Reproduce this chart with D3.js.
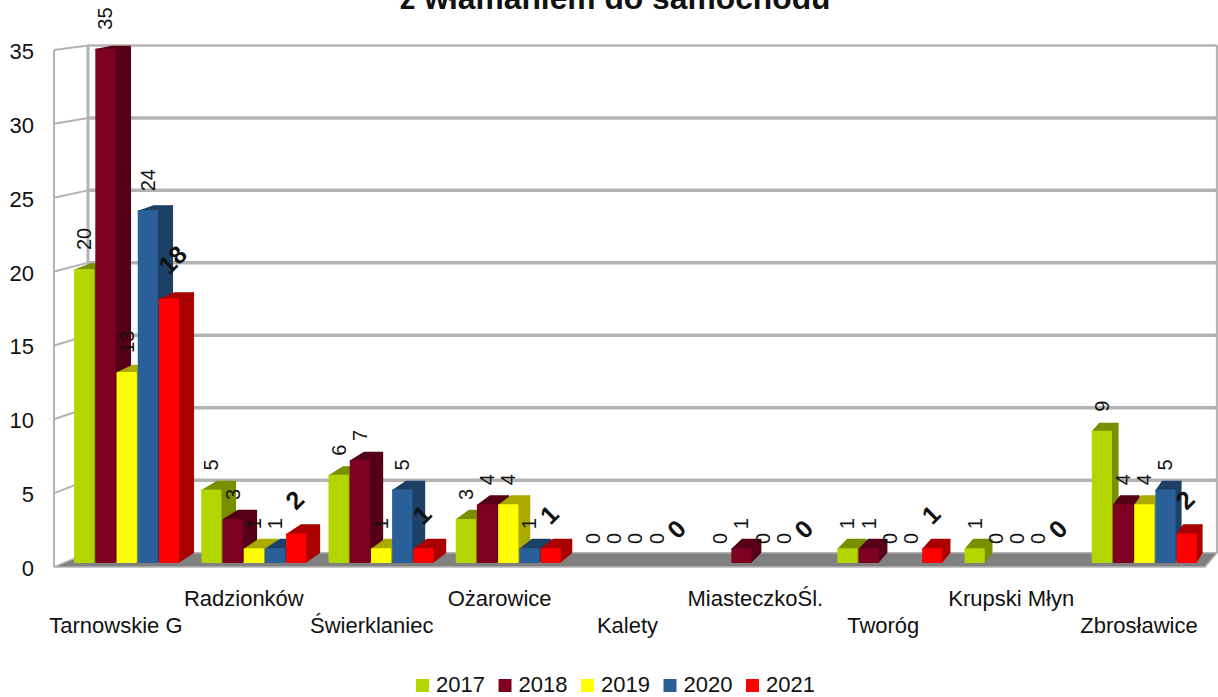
<!DOCTYPE html>
<html><head><meta charset="utf-8">
<script src="https://cdn.jsdelivr.net/npm/d3@7/dist/d3.min.js"></script>
<style>html,body{margin:0;background:#fff}svg{display:block}text{font-family:"Liberation Sans",sans-serif;fill:#111}</style>
</head><body><svg id="c" width="1218" height="697"></svg>
<script>
const categories=["Tarnowskie G","Radzionków","Świerklaniec","Ożarowice","Kalety","MiasteczkoŚl.","Tworóg","Krupski Młyn","Zbrosławice"];
const years=["2017","2018","2019","2020","2021"];
const v2017=[20,5,6,3,0,0,1,1,9];
const v2018=[35,3,7,4,0,1,1,0,4];
const v2019=[13,1,1,4,0,0,0,0,4];
const v2020=[24,1,5,1,0,0,0,0,5];
const v2021=[18,2,1,1,0,0,1,0,2];
const seriesValues=[v2017,v2018,v2019,v2020,v2021];
const frontColors=["#b3d600","#7e0021","#ffff00","#2a6099","#ff0000"];
const sideColors=["#788f00","#540016","#aaaa00","#1c4066","#aa0000"];
const yTicks=[0,5,10,15,20,25,30,35];
const titleText="z włamaniem do samochodu";

const svg=d3.select("#c");
const defs=svg.append("defs");
defs.append("filter").attr("id","soft").append("feGaussianBlur").attr("stdDeviation",0.55);

const x0=d3.scaleBand().domain(categories).range([54,1205]);
const x1=d3.scaleBand().domain(years).range([0,x0.bandwidth()]).paddingOuter(0.5);
const y=d3.scaleLinear().domain([0,35]).range([567,50]);
const K=0.981,VX=35,VY=-3.6,Z0=0.28,Z1=0.75,Z1Y=0.95;
// perspective: z=0 front plane, z=1 back wall (zy lets the bar tops read deeper than they are wide)
const P=(px,py,z,zy=z)=>[px+z*(VX+(K-1)*px),py+zy*(VY+(K-1)*py)];
const poly=pts=>pts.map(p=>p.join(",")).join(" ");

const grid=svg.append("g");
const gridCol="#b3b3b3";
const L=54,R=1205;
grid.append("polygon").attr("points",poly([P(L,y(0),0),P(R,y(0),0),P(R,y(0),1),P(L,y(0),1)]))
  .attr("fill","#808080").attr("stroke",gridCol).attr("stroke-width",1.5);
yTicks.forEach(t=>{
  const a=P(L,y(t),0),b=P(L,y(t),1),c=P(R,y(t),1);
  if(t>0){
    grid.append("line").attr("x1",a[0]).attr("y1",a[1]).attr("x2",b[0]).attr("y2",b[1]).attr("stroke",gridCol).attr("stroke-width",2);
    grid.append("line").attr("x1",b[0]).attr("y1",b[1]).attr("x2",c[0]).attr("y2",c[1]).attr("stroke",gridCol).attr("stroke-width",t===35?2.5:3.5);
  }
});
const seg=(a,b,w)=>grid.append("line").attr("x1",a[0]).attr("y1",a[1]).attr("x2",b[0]).attr("y2",b[1]).attr("stroke",gridCol).attr("stroke-width",w);
seg(P(L,y(0),0),P(L,y(35),0),2);
seg(P(L,y(0),1),P(L,y(35),1),3);
seg(P(R,y(0),1),P(R,y(35),1),2.5);

// bars: left to right, each front covers the previous side
const bars=svg.append("g").attr("filter","url(#soft)");
const labels=svg.append("g");
const inset=1;
categories.forEach((cat,i)=>{
  years.forEach((yr,s)=>{
    const v=seriesValues[s][i];
    const xa=x0(cat)+x1(yr),xb=xa+x1.bandwidth()-1;
    const yt=y(v),yb=y(0);
    const fTL=P(xa+inset,yt+inset,Z0),fTR=P(xb-inset,yt+inset,Z0),fBR=P(xb-inset,yb-inset,Z0),fBL=P(xa+inset,yb-inset,Z0);
    const bTL=P(xa+inset,yt+inset,Z1,Z1Y),bTR=P(xb-inset,yt+inset,Z1,Z1Y),bBR=P(xb-inset,yb-inset,Z1,Z1Y);
    if(v>0){
      const g=bars.append("g").attr("stroke-linejoin","round").attr("stroke-width",inset*2);
      g.append("polygon").attr("points",poly([fTL,bTL,bTR,fTR])).attr("fill",sideColors[s]).attr("stroke",sideColors[s]);
      g.append("polygon").attr("points",poly([fTR,bTR,bBR,fBR])).attr("fill",sideColors[s]).attr("stroke",sideColors[s]);
      g.append("polygon").attr("points",poly([fTL,fTR,fBR,fBL])).attr("fill",frontColors[s]).attr("stroke",frontColors[s]);
    }
    const cx=(fTL[0]+fTR[0])/2,top=fTL[1];
    const last=s===years.length-1;
    const lx=last?cx-6.5:cx, ly=last?top-30:top-20;
    labels.append("text").attr("transform",`translate(${lx},${ly}) rotate(${last?-45:-90})`)
      .attr("dominant-baseline","central").attr("text-anchor","start")
      .attr("font-size",last?25:20).attr("font-weight",last?"bold":"normal").text(v);
  });
});

// y axis
const yAxis=svg.append("g").attr("transform","translate(34,1.5)").call(d3.axisLeft(y).tickValues(yTicks).tickSize(0).tickPadding(0));
yAxis.select(".domain").remove();
yAxis.selectAll("text").attr("font-size",22).attr("font-family",'"Liberation Sans"').attr("fill","#111");

// category labels, staggered
svg.append("g").selectAll("text").data(categories).join("text")
  .attr("x",d=>x0(d)+x0.bandwidth()/2-2)
  .attr("y",(d,i)=>i%2?606:633)
  .attr("text-anchor","middle").attr("font-size",22).text(d=>d);

// title (upper part falls outside the page, as in the reference)
svg.append("text").attr("x",615).attr("y",8.5).attr("text-anchor","middle").attr("font-size",31.8).attr("font-weight","bold").text(titleText);

// legend
const lg=svg.append("g");
const legendX=d3.scalePoint().domain(years).range([416,746]);
years.forEach((yr,s)=>{
  lg.append("rect").attr("x",legendX(yr)).attr("y",679).attr("width",13).attr("height",13).attr("fill",frontColors[s]);
  lg.append("text").attr("x",legendX(yr)+20).attr("y",692).attr("font-size",22).text(yr);
});
</script></body></html>
